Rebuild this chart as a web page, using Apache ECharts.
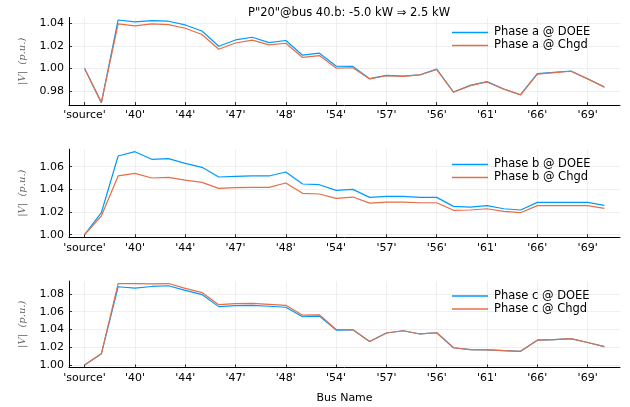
<!DOCTYPE html>
<html>
<head>
<meta charset="utf-8">
<style>
  html, body { margin: 0; padding: 0; background: #ffffff; }
  #chart { width: 630px; height: 407px; }
</style>
<script src="https://cdn.jsdelivr.net/npm/echarts@6/dist/echarts.min.js"></script>
</head>
<body>
<div id="chart"></div>
<script>
// Bus positions along the feeder path and the labelled ticks
const busCount = 32;
const tickPositions = [0, 3, 6, 9, 12, 15, 18, 21, 24, 27, 30];
const tickNames = ["'source'", "'40'", "'44'", "'47'", "'48'", "'54'", "'57'", "'56'", "'61'", "'66'", "'69'"];

// Voltage magnitudes (p.u.) per phase: DOEE solution vs. changed injection
const phaseA_DOEE = [1.000, 0.9697, 1.0429, 1.0412, 1.0423, 1.0418, 1.0385, 1.0331, 1.0196, 1.0252, 1.0276, 1.0229, 1.0247, 1.0117, 1.0135, 1.0021,
                     1.0018, 0.9909, 0.9938, 0.9932, 0.9944, 0.9994, 0.9791, 0.9850, 0.9883, 0.9818, 0.9767, 0.9953, 0.9965, 0.9977, 0.9909, 0.9835];
const phaseA_Chgd = [1.000, 0.9697, 1.0394, 1.0376, 1.0394, 1.0388, 1.0356, 1.0300, 1.0170, 1.0225, 1.0250, 1.0208, 1.0223, 1.0097, 1.0114, 1.0003,
                     1.0006, 0.9907, 0.9935, 0.9930, 0.9942, 0.9990, 0.9789, 0.9848, 0.9880, 0.9816, 0.9766, 0.9950, 0.9962, 0.9975, 0.9907, 0.9834];

const phaseB_DOEE = [1.000, 1.0194, 1.0694, 1.0732, 1.0665, 1.0671, 1.0629, 1.0594, 1.0509, 1.0515, 1.0518, 1.0518, 1.0553, 1.0447, 1.0441, 1.0391,
                     1.0400, 1.0329, 1.0338, 1.0338, 1.0329, 1.0329, 1.0250, 1.0244, 1.0256, 1.0229, 1.0218, 1.0285, 1.0285, 1.0285, 1.0285, 1.0259];
const phaseB_Chgd = [1.000, 1.0165, 1.0518, 1.0541, 1.0500, 1.0506, 1.0482, 1.0462, 1.0409, 1.0415, 1.0418, 1.0418, 1.0456, 1.0365, 1.0359, 1.0321,
                     1.0332, 1.0279, 1.0288, 1.0288, 1.0282, 1.0282, 1.0215, 1.0218, 1.0229, 1.0206, 1.0194, 1.0256, 1.0256, 1.0256, 1.0256, 1.0232];

const phaseC_DOEE = [1.000, 1.0125, 1.0881, 1.0866, 1.0884, 1.0892, 1.0840, 1.0793, 1.0657, 1.0668, 1.0672, 1.0661, 1.0650, 1.0543, 1.0550, 1.0393,
                     1.0396, 1.0264, 1.0360, 1.0385, 1.0349, 1.0363, 1.0194, 1.0172, 1.0169, 1.0161, 1.0154, 1.0279, 1.0286, 1.0297, 1.0253, 1.0206];
const phaseC_Chgd = [1.000, 1.0125, 1.0917, 1.0917, 1.0914, 1.0917, 1.0862, 1.0815, 1.0679, 1.0690, 1.0694, 1.0683, 1.0672, 1.0561, 1.0565, 1.0400,
                     1.0396, 1.0264, 1.0360, 1.0385, 1.0349, 1.0363, 1.0194, 1.0172, 1.0169, 1.0161, 1.0154, 1.0279, 1.0286, 1.0297, 1.0253, 1.0206];

// Y tick labels for each panel
const yTicksA = [0.98, 1.00, 1.02, 1.04];
const yTicksB = [1.00, 1.02, 1.04, 1.06];
const yTicksC = [1.00, 1.02, 1.04, 1.06, 1.08];

const panels = [
  { phase: 'a', doee: phaseA_DOEE, chgd: phaseA_Chgd, yTicks: yTicksA },
  { phase: 'b', doee: phaseB_DOEE, chgd: phaseB_Chgd, yTicks: yTicksB },
  { phase: 'c', doee: phaseC_DOEE, chgd: phaseC_Chgd, yTicks: yTicksC }
];

const BLUE = '#009AFA';
const RED = '#E36F47';
const FONT = 'DejaVu Sans';

// Plot-area layout (pixels)
const gridLeft = 69, gridRight = 10;
const gridTops = [17.5, 149.2, 281.1];
const gridHeights = [87.6, 88.0, 86.3];
const legendTops = [26.5, 158.5, 290];

// Widen an extent by 3% on each side
function widen(lo, hi) {
  const pad = 0.03 * (hi - lo);
  return [lo - pad, hi + pad];
}

const xExt = widen(0, busCount - 1);
const toPairs = arr => arr.map((v, i) => [i, v]);

const grids = [], xAxes = [], yAxes = [], series = [], legends = [];

panels.forEach((p, k) => {
  const all = p.doee.concat(p.chgd);
  const yExt = widen(Math.min.apply(null, all), Math.max.apply(null, all));
  const last = k === panels.length - 1;

  grids.push({ left: gridLeft, right: gridRight, top: gridTops[k], height: gridHeights[k] });

  xAxes.push({
    type: 'value', gridIndex: k, min: xExt[0], max: xExt[1],
    name: last ? 'Bus Name' : '', nameLocation: 'middle', nameGap: 25,
    nameTextStyle: { fontFamily: FONT, fontSize: 11, color: '#000' },
    axisLine: { show: true, onZero: false, lineStyle: { color: '#000', width: 1 } },
    axisTick: { show: true, inside: true, length: 3, customValues: tickPositions, lineStyle: { color: '#000', width: 0.8 } },
    axisLabel: {
      show: true, margin: 5, fontFamily: FONT, fontSize: 11, color: '#000',
      customValues: tickPositions,
      formatter: v => tickNames[tickPositions.indexOf(Math.round(v))] || ''
    },
    splitLine: { show: true, lineStyle: { color: '#e4e4e4', width: 0.6 } }
  });

  yAxes.push({
    type: 'value', gridIndex: k, min: yExt[0], max: yExt[1],
    name: '|V|  (p.u.)', nameLocation: 'middle', nameRotate: 90, nameGap: 42,
    nameTextStyle: { fontFamily: 'DejaVu Serif', fontStyle: 'italic', fontSize: 10, color: '#666' },
    axisLine: { show: true, onZero: false, lineStyle: { color: '#000', width: 1 } },
    axisTick: { show: true, inside: true, length: 3, customValues: p.yTicks, lineStyle: { color: '#000', width: 0.8 } },
    axisLabel: {
      show: true, margin: 5, fontFamily: FONT, fontSize: 11, color: '#000',
      customValues: p.yTicks,
      formatter: v => v.toFixed(2)
    },
    splitLine: { show: true, lineStyle: { color: '#e4e4e4', width: 0.6 } }
  });

  const nameD = 'Phase ' + p.phase + ' @ DOEE';
  const nameC = 'Phase ' + p.phase + ' @ Chgd';
  series.push({
    name: nameD, type: 'line', xAxisIndex: k, yAxisIndex: k, data: toPairs(p.doee),
    showSymbol: false, symbol: 'none', lineStyle: { color: BLUE, width: 1.2 }, itemStyle: { color: BLUE },
    animation: false
  });
  series.push({
    name: nameC, type: 'line', xAxisIndex: k, yAxisIndex: k, data: toPairs(p.chgd),
    showSymbol: false, symbol: 'none', lineStyle: { color: RED, width: 1.2 }, itemStyle: { color: RED },
    animation: false
  });

  legends.push({
    data: [nameD, nameC], orient: 'vertical', left: 452, top: legendTops[k],
    padding: 0, itemGap: 1, itemWidth: 36, itemHeight: 1.5, icon: 'rect',
    textStyle: { fontFamily: FONT, fontSize: 11.5, color: '#000', padding: [0, 0, 0, 1] },
    selectedMode: false
  });
});

const chart = echarts.init(document.getElementById('chart'), null, { renderer: 'canvas' });
chart.setOption({
  backgroundColor: '#ffffff',
  animation: false,
  title: {
    text: 'P"20"@bus 40.b: -5.0 kW \u21D2 2.5 kW',
    left: 344, top: 2.5, textAlign: 'center',
    textStyle: { fontFamily: FONT, fontSize: 11.5, fontWeight: 'normal', color: '#000' }
  },
  legend: legends,
  grid: grids,
  xAxis: xAxes,
  yAxis: yAxes,
  series: series
});
</script>
</body>
</html>
